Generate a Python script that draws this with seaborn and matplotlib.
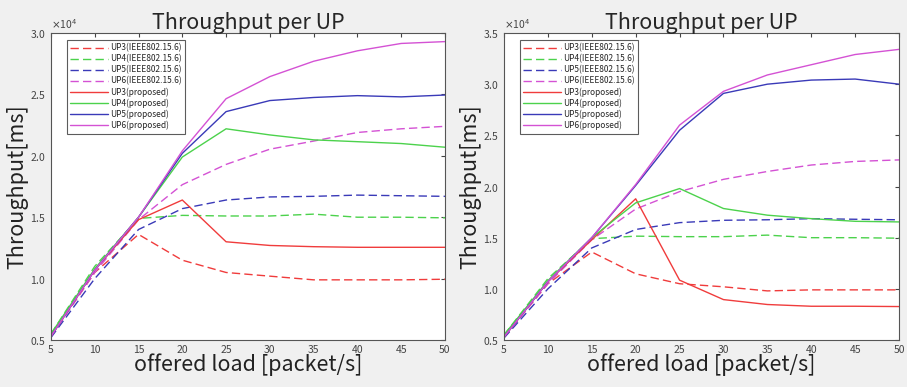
import numpy as np
import pandas as pd
import matplotlib
matplotlib.use("Agg")
import matplotlib.pyplot as plt
import seaborn as sns

# offered load [packet/s]
load = [5, 10, 15, 20, 25, 30, 35, 40, 45, 50]

# left panel (x1e4)
L_up3_ieee = [0.53, 1.05, 1.36, 1.15, 1.05, 1.02, 0.99, 0.99, 0.99, 0.995]
L_up4_ieee = [0.55, 1.10, 1.49, 1.515, 1.51, 1.51, 1.525, 1.50, 1.50, 1.495]
L_up5_ieee = [0.52, 1.00, 1.40, 1.57, 1.64, 1.665, 1.67, 1.68, 1.675, 1.67]
L_up6_ieee = [0.53, 1.05, 1.48, 1.765, 1.93, 2.054, 2.12, 2.19, 2.22, 2.24]
L_up3_prop = [0.53, 1.07, 1.48, 1.64, 1.30, 1.27, 1.26, 1.255, 1.255, 1.255]
L_up4_prop = [0.55, 1.08, 1.50, 1.99, 2.22, 2.17, 2.13, 2.115, 2.10, 2.07]
L_up5_prop = [0.53, 1.07, 1.50, 2.02, 2.36, 2.45, 2.475, 2.49, 2.48, 2.495]
L_up6_prop = [0.53, 1.07, 1.50, 2.04, 2.465, 2.645, 2.77, 2.855, 2.915, 2.93]

# right panel (x1e4)
R_up3_ieee = [0.53, 1.05, 1.36, 1.147, 1.05, 1.02, 0.98, 0.99, 0.99, 0.99]
R_up4_ieee = [0.55, 1.10, 1.49, 1.515, 1.51, 1.51, 1.525, 1.50, 1.50, 1.495]
R_up5_ieee = [0.52, 1.00, 1.40, 1.58, 1.647, 1.67, 1.675, 1.686, 1.68, 1.675]
R_up6_ieee = [0.53, 1.05, 1.48, 1.78, 1.95, 2.07, 2.147, 2.21, 2.245, 2.26]
R_up3_prop = [0.53, 1.07, 1.48, 1.88, 1.085, 0.895, 0.847, 0.83, 0.83, 0.827]
R_up4_prop = [0.55, 1.08, 1.50, 1.84, 1.98, 1.785, 1.72, 1.686, 1.66, 1.654]
R_up5_prop = [0.53, 1.07, 1.50, 2.01, 2.55, 2.91, 3.00, 3.04, 3.05, 3.00]
R_up6_prop = [0.53, 1.07, 1.50, 2.02, 2.60, 2.93, 3.09, 3.19, 3.29, 3.34]

labels = ["UP3(IEEE802.15.6)", "UP4(IEEE802.15.6)", "UP5(IEEE802.15.6)", "UP6(IEEE802.15.6)",
          "UP3(proposed)", "UP4(proposed)", "UP5(proposed)", "UP6(proposed)"]
colors = ["#f03c3c", "#4cd24c", "#3a3ab8", "#d452d4"] * 2

left_series = [L_up3_ieee, L_up4_ieee, L_up5_ieee, L_up6_ieee,
               L_up3_prop, L_up4_prop, L_up5_prop, L_up6_prop]
right_series = [R_up3_ieee, R_up4_ieee, R_up5_ieee, R_up6_ieee,
                R_up3_prop, R_up4_prop, R_up5_prop, R_up6_prop]

sns.set_style("white")
plt.rcParams['font.family'] = ['Noto Sans CJK JP', 'DejaVu Sans']

fig = plt.figure(figsize=(9.07, 3.87), dpi=100)
fig.patch.set_facecolor("#f0f0f0")
ax1 = fig.add_axes([0.0562, 0.1214, 0.4344, 0.7933])
ax2 = fig.add_axes([0.5557, 0.1214, 0.4355, 0.7933])


def draw(ax, series, ymax):
    for i, (lab, vals) in enumerate(zip(labels, series)):
        df = pd.DataFrame({"load": load, "thr": np.array(vals) * 1e4})
        sns.lineplot(data=df, x="load", y="thr", ax=ax, color=colors[i],
                     linewidth=1.0, label=lab)
        if i < 4:
            ax.lines[-1].set_dashes([6, 3])
    ax.set_xlim(5, 50)
    ax.set_ylim(5000, ymax)
    ax.set_xticks(load)
    ax.set_yticks(np.arange(5000, ymax + 1, 5000))
    ax.ticklabel_format(axis="y", style="sci", scilimits=(4, 4), useMathText=True)
    ax.yaxis.get_offset_text().set_fontsize(7.5)
    ax.yaxis.get_offset_text().set_color("#444444")
    ax.tick_params(direction="in", length=3, labelsize=7.5, colors="#444444",
                   top=True, right=True)
    for s in ax.spines.values():
        s.set_color("#555555")
        s.set_linewidth(0.8)
    ax.set_title("Throughput per UP", fontsize=15.5, pad=3)
    ax.set_xlabel("offered load [packet/s]", fontsize=15.5, labelpad=-1, color="#222222")
    ax.set_ylabel("Throughput[ms]", fontsize=15.5, labelpad=1, color="#222222")
    leg = ax.legend(loc="upper left", bbox_to_anchor=(0.03, 0.99), fontsize=6,
                    frameon=True, fancybox=False, handlelength=4.5,
                    borderpad=0.4, labelspacing=0.22, handletextpad=0.3)
    leg.get_frame().set_edgecolor("#333333")
    leg.get_frame().set_linewidth(0.8)


draw(ax1, left_series, 30000)
draw(ax2, right_series, 35000)

fig.savefig("out.png", dpi=100, facecolor=fig.get_facecolor())
